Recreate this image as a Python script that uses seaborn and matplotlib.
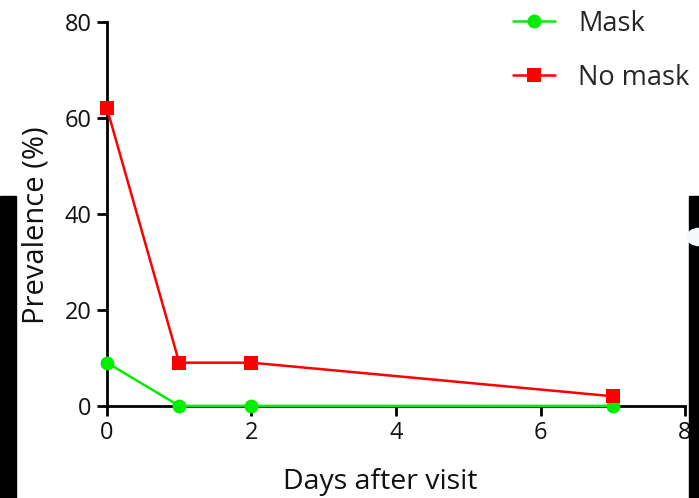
import numpy as np
import pandas as pd
import matplotlib.pyplot as plt
import seaborn as sns
from matplotlib.patches import Rectangle, Circle

days = [0, 1, 2, 7]
mask = [9, 0, 0, 0]
no_mask = [62, 9, 9, 2]
groups = ["Mask", "No mask"]
x_ticks = [0, 2, 4, 6, 8]
y_ticks = [0, 20, 40, 60, 80]

df = pd.DataFrame({
    "day": days * 2,
    "value": mask + no_mask,
    "group": [groups[0]] * len(days) + [groups[1]] * len(days),
})

sns.set_style("ticks")
plt.rcParams["font.family"] = ["Open Sans", "DejaVu Sans"]

fig = plt.figure(figsize=(6.99, 4.98), dpi=100)
ax = fig.add_axes([0.153, 0.185, 0.827, 0.771])

sns.lineplot(data=df, x="day", y="value", hue="group", style="group",
             palette={"Mask": "#00ee00", "No mask": "#ff0000"},
             markers={"Mask": "o", "No mask": "s"}, dashes=False,
             markersize=10, markeredgewidth=0, linewidth=1.8,
             ax=ax, legend=True, clip_on=False, zorder=3)

ax.set_xlim(0, 8)
ax.set_ylim(0, 80)
ax.set_xticks(x_ticks)
ax.set_yticks(y_ticks)
ax.tick_params(labelsize=17, width=2, length=7, pad=4, color="black", labelcolor="#111111")
for side in ["top", "right"]:
    ax.spines[side].set_visible(False)
for side in ["left", "bottom"]:
    ax.spines[side].set_linewidth(2)
    ax.spines[side].set_color("black")
ax.set_xlabel("Days after visit", fontsize=20.5, color="#111111")
ax.set_ylabel("Prevalence (%)", fontsize=21, color="#111111")
ax.xaxis.set_label_coords(0.472, -0.163)
ax.yaxis.set_label_coords(-0.098, 0.47)

handles, labels = ax.get_legend_handles_labels()
ax.get_legend().remove()
fig.legend(handles, labels, loc="upper left", bbox_to_anchor=(513 / 699, 0.98),
           frameon=False, fontsize=19.5, labelspacing=0.95, handlelength=1.55,
           handletextpad=0.85, borderpad=0, borderaxespad=0)

# dark strips at the image edges
fig.patches.append(Rectangle((0, 0), 16 / 699, 302 / 498, transform=fig.transFigure,
                             color="black", zorder=10))
fig.patches.append(Rectangle((689 / 699, 0), 10 / 699, 302 / 498, transform=fig.transFigure,
                             color="black", zorder=10))
fig.patches.append(Circle((699 / 699, 261 / 498), 12 / 699, transform=fig.transFigure,
                          color="#f4f8fb", zorder=11))

fig.savefig("out.png", dpi=100)
